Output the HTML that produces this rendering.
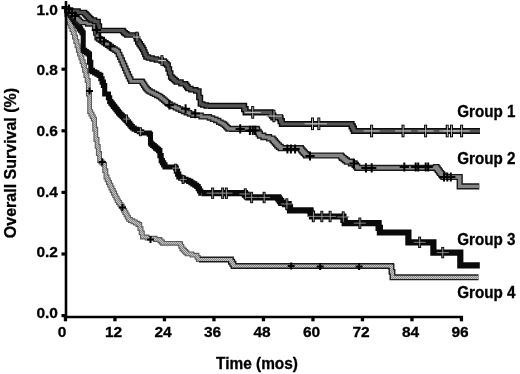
<!DOCTYPE html><html><head><meta charset="utf-8"><title>Overall Survival</title><style>html,body{margin:0;padding:0;background:#fff}svg{display:block}</style></head><body><svg width="520" height="374" viewBox="0 0 520 374">
<defs><pattern id="dots" width="2" height="2" patternUnits="userSpaceOnUse"><rect width="2" height="2" fill="#c4c4c4"/><rect width="1" height="1" fill="#8a8a8a"/><rect x="1" y="1" width="1" height="1" fill="#8a8a8a"/></pattern></defs>
<rect width="520" height="374" fill="#fff"/>
<g fill="none" stroke-linejoin="miter" stroke-linecap="butt">
<path d="M66.0 9.0 L66.7 9.0 L66.7 14.6 L68.1 14.6 L68.1 20.1 L68.8 20.1 L69.4 20.1 L69.4 23.2 L70.7 23.2 L70.7 26.4 L71.9 26.4 L71.9 29.6 L73.2 29.6 L73.2 32.7 L73.8 32.7 L74.4 32.7 L74.4 37.1 L75.7 37.1 L75.7 41.5 L77.0 41.5 L77.0 45.9 L78.3 45.9 L78.3 50.3 L78.9 50.3 L79.5 50.3 L79.5 54.1 L80.8 54.1 L80.8 57.9 L82.0 57.9 L82.0 61.6 L83.3 61.6 L83.3 65.4 L83.9 65.4 L84.5 65.4 L84.5 70.4 L85.8 70.4 L85.8 75.5 L87.1 75.5 L87.1 80.5 L87.7 80.5 L88.3 80.5 L88.3 94.0 L88.9 94.0 L89.6 94.0 L89.6 111.6 L90.2 111.6 L90.8 111.6 L90.8 114.1 L92.1 114.1 L92.1 116.6 L93.3 116.6 L93.3 119.1 L93.9 119.1 L94.6 119.1 L94.6 129.2 L95.8 129.2 L95.8 139.3 L96.5 139.3 L97.1 139.3 L97.1 146.4 L98.3 146.4 L98.3 153.5 L99.6 153.5 L99.6 160.6 L100.2 160.6 L100.8 160.6 L100.8 161.9 L102.1 161.9 L102.1 163.1 L103.4 163.1 L103.4 164.4 L104.0 164.4 L104.6 164.4 L104.6 170.7 L105.9 170.7 L105.9 177.0 L106.5 177.0 L107.1 177.0 L107.1 179.8 L108.4 179.8 L108.4 182.5 L109.6 182.5 L109.6 185.2 L110.9 185.2 L110.9 188.0 L111.5 188.0 L112.1 188.0 L112.1 190.5 L113.4 190.5 L113.4 193.0 L114.7 193.0 L114.7 195.6 L115.9 195.6 L115.9 198.1 L117.2 198.1 L117.2 200.6 L117.8 200.6 L118.4 200.6 L118.4 202.5 L119.7 202.5 L119.7 204.3 L121.0 204.3 L121.0 206.2 L122.3 206.2 L122.3 208.1 L122.9 208.1 L123.5 208.1 L123.5 210.4 L124.8 210.4 L124.8 212.6 L126.0 212.6 L126.0 214.9 L127.2 214.9 L127.2 217.1 L128.5 217.1 L128.5 219.4 L129.1 219.4 L130.4 219.4 L130.4 220.7 L132.9 220.7 L132.9 221.9 L135.4 221.9 L135.4 223.2 L137.9 223.2 L137.9 224.5 L139.2 224.5 L139.8 224.5 L139.8 228.7 L141.1 228.7 L141.1 232.8 L142.4 232.8 L142.4 237.0 L143.0 237.0 L147.1 237.0 L147.1 238.2 L155.2 238.2 L155.2 239.5 L159.3 239.5 L159.9 239.5 L159.9 240.8 L161.2 240.8 L161.2 242.0 L162.5 242.0 L162.5 243.3 L163.1 243.3 L180.0 243.3 L180.0 243.9 L180.7 243.9 L180.7 246.4 L181.9 246.4 L181.9 248.9 L182.6 248.9 L183.2 248.9 L183.2 250.2 L184.5 250.2 L184.5 251.4 L185.7 251.4 L185.7 252.7 L187.0 252.7 L187.0 253.9 L187.6 253.9 L192.0 253.9 L192.0 255.2 L196.4 255.2 L197.0 255.2 L197.0 257.4 L198.3 257.4 L198.3 259.5 L198.9 259.5" stroke="#5c5c5c" stroke-width="4.8"/>
<path d="M198.9 259.5 L230.3 259.5 L230.3 259.5 L230.9 259.5 L230.9 261.7 L232.2 261.7 L232.2 263.8 L233.5 263.8 L233.5 266.0 L234.1 266.0 L391.0 266.0 L391.0 266.5 L391.5 266.5 L391.5 271.9 L392.5 271.9 L392.5 277.3 L393.0 277.3 L478.5 277.3 L478.5 277.3" stroke="#1c1c1c" stroke-width="5.9"/>
<path d="M66.0 9.0 L66.7 9.0 L66.7 14.6 L68.1 14.6 L68.1 20.1 L68.8 20.1 L69.4 20.1 L69.4 23.2 L70.7 23.2 L70.7 26.4 L71.9 26.4 L71.9 29.6 L73.2 29.6 L73.2 32.7 L73.8 32.7 L74.4 32.7 L74.4 37.1 L75.7 37.1 L75.7 41.5 L77.0 41.5 L77.0 45.9 L78.3 45.9 L78.3 50.3 L78.9 50.3 L79.5 50.3 L79.5 54.1 L80.8 54.1 L80.8 57.9 L82.0 57.9 L82.0 61.6 L83.3 61.6 L83.3 65.4 L83.9 65.4 L84.5 65.4 L84.5 70.4 L85.8 70.4 L85.8 75.5 L87.1 75.5 L87.1 80.5 L87.7 80.5 L88.3 80.5 L88.3 94.0 L88.9 94.0 L89.6 94.0 L89.6 111.6 L90.2 111.6 L90.8 111.6 L90.8 114.1 L92.1 114.1 L92.1 116.6 L93.3 116.6 L93.3 119.1 L93.9 119.1 L94.6 119.1 L94.6 129.2 L95.8 129.2 L95.8 139.3 L96.5 139.3 L97.1 139.3 L97.1 146.4 L98.3 146.4 L98.3 153.5 L99.6 153.5 L99.6 160.6 L100.2 160.6 L100.8 160.6 L100.8 161.9 L102.1 161.9 L102.1 163.1 L103.4 163.1 L103.4 164.4 L104.0 164.4 L104.6 164.4 L104.6 170.7 L105.9 170.7 L105.9 177.0 L106.5 177.0 L107.1 177.0 L107.1 179.8 L108.4 179.8 L108.4 182.5 L109.6 182.5 L109.6 185.2 L110.9 185.2 L110.9 188.0 L111.5 188.0 L112.1 188.0 L112.1 190.5 L113.4 190.5 L113.4 193.0 L114.7 193.0 L114.7 195.6 L115.9 195.6 L115.9 198.1 L117.2 198.1 L117.2 200.6 L117.8 200.6 L118.4 200.6 L118.4 202.5 L119.7 202.5 L119.7 204.3 L121.0 204.3 L121.0 206.2 L122.3 206.2 L122.3 208.1 L122.9 208.1 L123.5 208.1 L123.5 210.4 L124.8 210.4 L124.8 212.6 L126.0 212.6 L126.0 214.9 L127.2 214.9 L127.2 217.1 L128.5 217.1 L128.5 219.4 L129.1 219.4 L130.4 219.4 L130.4 220.7 L132.9 220.7 L132.9 221.9 L135.4 221.9 L135.4 223.2 L137.9 223.2 L137.9 224.5 L139.2 224.5 L139.8 224.5 L139.8 228.7 L141.1 228.7 L141.1 232.8 L142.4 232.8 L142.4 237.0 L143.0 237.0 L147.1 237.0 L147.1 238.2 L155.2 238.2 L155.2 239.5 L159.3 239.5 L159.9 239.5 L159.9 240.8 L161.2 240.8 L161.2 242.0 L162.5 242.0 L162.5 243.3 L163.1 243.3 L180.0 243.3 L180.0 243.9 L180.7 243.9 L180.7 246.4 L181.9 246.4 L181.9 248.9 L182.6 248.9 L183.2 248.9 L183.2 250.2 L184.5 250.2 L184.5 251.4 L185.7 251.4 L185.7 252.7 L187.0 252.7 L187.0 253.9 L187.6 253.9 L192.0 253.9 L192.0 255.2 L196.4 255.2 L197.0 255.2 L197.0 257.4 L198.3 257.4 L198.3 259.5 L198.9 259.5" stroke="url(#dots)" stroke-width="2.6"/>
<path d="M198.9 259.5 L230.3 259.5 L230.3 259.5 L230.9 259.5 L230.9 261.7 L232.2 261.7 L232.2 263.8 L233.5 263.8 L233.5 266.0 L234.1 266.0 L391.0 266.0 L391.0 266.5 L391.5 266.5 L391.5 271.9 L392.5 271.9 L392.5 277.3 L393.0 277.3 L478.5 277.3 L478.5 277.3" stroke="url(#dots)" stroke-width="3.2"/>
<path d="M66.0 9.0 L66.7 9.0 L66.7 10.7 L68.0 10.7 L68.0 12.3 L69.3 12.3 L69.3 14.0 L70.0 14.0 L70.6 14.0 L70.6 15.8 L71.9 15.8 L71.9 17.7 L73.2 17.7 L73.2 19.6 L74.4 19.6 L74.4 21.4 L75.7 21.4 L75.7 23.2 L77.0 23.2 L77.0 25.1 L77.6 25.1 L78.2 25.1 L78.2 27.0 L79.5 27.0 L79.5 28.9 L80.7 28.9 L80.7 30.8 L82.0 30.8 L82.0 32.7 L82.6 32.7 L83.2 32.7 L83.2 50.3 L83.9 50.3 L84.7 50.3 L84.7 51.5 L86.4 51.5 L86.4 52.8 L88.1 52.8 L88.1 54.0 L88.9 54.0 L89.5 54.0 L89.5 62.2 L90.8 62.2 L90.8 70.4 L91.4 70.4 L92.5 70.4 L92.5 71.7 L94.7 71.7 L94.7 72.9 L96.9 72.9 L96.9 74.2 L99.1 74.2 L99.1 75.4 L100.2 75.4 L100.8 75.4 L100.8 78.8 L102.1 78.8 L102.1 82.1 L103.4 82.1 L103.4 85.5 L104.0 85.5 L104.7 85.5 L104.7 94.0 L105.3 94.0 L107.8 94.0 L107.8 94.0 L108.4 94.0 L108.4 97.8 L109.7 97.8 L109.7 101.5 L110.3 101.5 L110.9 101.5 L110.9 103.1 L112.2 103.1 L112.2 104.8 L113.4 104.8 L113.4 106.4 L114.7 106.4 L114.7 108.0 L116.0 108.0 L116.0 109.6 L117.2 109.6 L117.2 111.3 L118.5 111.3 L118.5 112.9 L119.1 112.9 L119.7 112.9 L119.7 114.2 L121.0 114.2 L121.0 115.4 L122.2 115.4 L122.2 116.7 L123.5 116.7 L123.5 117.9 L124.7 117.9 L124.7 119.2 L126.0 119.2 L126.0 120.4 L126.6 120.4 L127.2 120.4 L127.2 121.9 L128.5 121.9 L128.5 123.4 L129.8 123.4 L129.8 125.0 L131.0 125.0 L131.0 126.5 L132.3 126.5 L132.3 128.0 L132.9 128.0 L134.2 128.0 L134.2 129.2 L136.7 129.2 L136.7 130.5 L139.2 130.5 L139.2 131.8 L141.7 131.8 L141.7 133.0 L143.0 133.0 L149.3 133.0 L149.3 134.2 L150.5 134.2 L150.5 143.0 L151.2 143.0 L151.2 144.3 L152.7 144.3 L152.7 145.5 L154.2 145.5 L154.2 146.8 L155.6 146.8 L155.6 148.1 L157.1 148.1 L157.1 149.3 L158.6 149.3 L158.6 150.6 L159.3 150.6 L159.9 150.6 L159.9 155.6 L161.2 155.6 L161.2 160.6 L161.8 160.6 L162.4 160.6 L162.4 162.7 L163.7 162.7 L163.7 164.9 L165.0 164.9 L165.0 167.0 L165.6 167.0 L175.7 167.0 L175.7 168.2 L176.3 168.2 L176.3 171.1 L177.6 171.1 L177.6 174.1 L178.8 174.1 L178.8 177.0 L179.4 177.0 L180.7 177.0 L180.7 178.1 L183.4 178.1 L183.4 179.2 L186.0 179.2 L186.0 180.3 L188.7 180.3 L188.7 181.4 L190.0 181.4 L190.9 181.4 L190.9 182.7 L192.8 182.7 L192.8 183.9 L194.8 183.9 L194.8 185.2 L196.7 185.2 L196.7 186.5 L197.6 186.5 L198.2 186.5 L198.2 188.7 L199.5 188.7 L199.5 191.0 L200.8 191.0 L200.8 193.2 L201.4 193.2" stroke="#0a0a0a" stroke-width="5.1"/>
<path d="M201.4 193.2 L244.1 193.2 L244.1 193.2 L244.9 193.2 L244.9 194.6 L246.6 194.6 L246.6 195.9 L248.3 195.9 L248.3 197.3 L249.1 197.3 L278.1 197.3 L278.1 197.8 L278.7 197.8 L278.7 199.5 L280.0 199.5 L280.0 201.1 L281.2 201.1 L281.2 202.8 L281.8 202.8 L285.0 202.8 L285.0 204.1 L288.1 204.1 L288.7 204.1 L288.7 207.2 L290.0 207.2 L290.0 210.3 L290.6 210.3 L310.0 210.3 L310.0 210.6 L310.6 210.6 L310.6 213.6 L312.0 213.6 L312.0 216.5 L312.6 216.5 L342.8 216.5 L342.8 216.5 L343.4 216.5 L343.4 219.8 L344.7 219.8 L344.7 223.2 L345.3 223.2 L378.0 223.2 L378.0 223.2 L378.6 223.2 L378.6 227.8 L379.9 227.8 L379.9 232.5 L380.5 232.5 L407.7 232.5 L407.7 232.5 L408.4 232.5 L408.4 242.3 L409.2 242.3 L432.7 242.3 L432.7 242.3 L433.4 242.3 L433.4 252.6 L434.2 252.6 L459.2 252.6 L459.2 252.6 L460.3 252.6 L460.3 265.3 L479.8 265.3 L479.8 265.3" stroke="#0a0a0a" stroke-width="6.2"/>
<path d="M66.0 9.0 L66.7 9.0 L66.7 10.2 L68.1 10.2 L68.1 11.5 L69.5 11.5 L69.5 12.7 L70.9 12.7 L70.9 13.9 L72.3 13.9 L72.3 15.2 L73.7 15.2 L73.7 16.4 L75.1 16.4 L75.1 17.7 L76.5 17.7 L76.5 18.9 L77.9 18.9 L77.9 20.1 L79.3 20.1 L79.3 21.4 L80.7 21.4 L80.7 22.6 L81.4 22.6 L87.7 22.6 L87.7 23.9 L94.0 23.9 L94.6 23.9 L94.6 28.5 L95.8 28.5 L95.8 33.1 L97.1 33.1 L97.1 37.7 L97.7 37.7 L98.6 37.7 L98.6 39.0 L100.4 39.0 L100.4 40.2 L102.2 40.2 L102.2 41.5 L104.0 41.5 L104.0 42.7 L105.8 42.7 L105.8 44.0 L107.6 44.0 L107.6 45.2 L109.4 45.2 L109.4 46.5 L110.3 46.5 L111.2 46.5 L111.2 47.8 L113.1 47.8 L113.1 49.0 L115.0 49.0 L115.0 50.2 L116.9 50.2 L116.9 51.5 L117.8 51.5 L118.4 51.5 L118.4 54.4 L119.7 54.4 L119.7 57.2 L121.0 57.2 L121.0 60.0 L122.3 60.0 L122.3 62.9 L122.9 62.9 L123.5 62.9 L123.5 65.6 L124.7 65.6 L124.7 68.3 L125.9 68.3 L125.9 71.1 L127.1 71.1 L127.1 73.8 L128.3 73.8 L128.3 76.5 L128.9 76.5 L129.6 76.5 L129.6 78.9 L130.8 78.9 L130.8 81.3 L131.5 81.3 L142.0 81.3 L142.0 82.0 L142.6 82.0 L142.6 83.6 L143.7 83.6 L143.7 85.2 L144.8 85.2 L144.8 86.9 L145.9 86.9 L145.9 88.5 L146.5 88.5 L147.1 88.5 L147.1 89.8 L148.4 89.8 L148.4 91.0 L149.0 91.0 L150.1 91.0 L150.1 92.1 L152.3 92.1 L152.3 93.2 L154.5 93.2 L154.5 94.3 L156.7 94.3 L156.7 95.4 L158.9 95.4 L158.9 96.5 L160.0 96.5 L160.7 96.5 L160.7 97.8 L162.2 97.8 L162.2 99.0 L163.7 99.0 L163.7 100.2 L165.1 100.2 L165.1 101.5 L166.6 101.5 L166.6 102.8 L168.1 102.8 L168.1 104.0 L168.8 104.0 L170.1 104.0 L170.1 105.2 L172.8 105.2 L172.8 106.5 L175.4 106.5 L175.4 107.8 L178.1 107.8 L178.1 109.0 L180.7 109.0 L180.7 110.2 L183.4 110.2 L183.4 111.5 L184.7 111.5 L186.3 111.5 L186.3 112.7 L189.5 112.7 L189.5 114.0 L192.7 114.0 L192.7 115.2 L194.3 115.2 L201.1 115.2 L201.1 116.8 L207.8 116.8 L209.4 116.8 L209.4 118.0 L212.6 118.0 L212.6 119.3 L215.8 119.3 L215.8 120.5 L217.4 120.5 L218.7 120.5 L218.7 122.2 L220.0 122.2 L221.0 122.2 L221.0 123.2 L222.9 123.2 L222.9 124.1 L223.9 124.1 L224.5 124.1 L224.5 125.3 L225.7 125.3 L225.7 126.5 L226.9 126.5 L226.9 127.7 L228.1 127.7 L228.1 128.9 L228.7 128.9" stroke="#1a1a1a" stroke-width="5.5"/>
<path d="M228.7 128.9 L256.6 128.9 L256.6 129.9 L257.2 129.9 L257.2 131.8 L258.6 131.8 L258.6 133.7 L259.9 133.7 L259.9 135.6 L260.5 135.6 L263.4 135.6 L263.4 137.1 L269.1 137.1 L269.1 138.5 L272.0 138.5 L272.6 138.5 L272.6 139.9 L273.7 139.9 L273.7 141.2 L274.9 141.2 L274.9 142.6 L276.1 142.6 L276.1 143.9 L277.2 143.9 L277.2 145.3 L277.8 145.3 L278.8 145.3 L278.8 146.8 L280.7 146.8 L280.7 148.2 L281.7 148.2 L300.9 148.2 L300.9 149.1 L301.5 149.1 L301.5 150.4 L302.6 150.4 L302.6 151.7 L303.8 151.7 L303.8 152.9 L305.0 152.9 L305.0 154.2 L306.1 154.2 L306.1 155.5 L306.7 155.5 L341.0 155.5 L341.0 156.5 L341.9 156.5 L341.9 157.8 L343.6 157.8 L343.6 159.1 L345.2 159.1 L345.2 160.4 L346.9 160.4 L346.9 161.7 L347.8 161.7 L350.9 161.7 L350.9 163.4 L354.0 163.4 L354.6 163.4 L354.6 164.9 L355.9 164.9 L355.9 166.4 L357.2 166.4 L357.2 167.9 L357.8 167.9 L436.0 167.9 L436.0 167.0 L436.6 167.0 L436.6 168.5 L437.7 168.5 L437.7 170.0 L438.8 170.0 L438.8 171.5 L439.9 171.5 L439.9 173.0 L440.5 173.0 L441.1 173.0 L441.1 174.3 L442.2 174.3 L442.2 175.7 L443.4 175.7 L443.4 177.0 L444.0 177.0 L459.0 177.0 L459.0 177.0 L459.7 177.0 L459.7 186.4 L460.4 186.4 L479.3 186.4 L479.3 186.4" stroke="#1a1a1a" stroke-width="6.2"/>
<path d="M66.0 9.0 L66.7 9.0 L66.7 10.2 L68.1 10.2 L68.1 11.5 L69.5 11.5 L69.5 12.7 L70.9 12.7 L70.9 13.9 L72.3 13.9 L72.3 15.2 L73.7 15.2 L73.7 16.4 L75.1 16.4 L75.1 17.7 L76.5 17.7 L76.5 18.9 L77.9 18.9 L77.9 20.1 L79.3 20.1 L79.3 21.4 L80.7 21.4 L80.7 22.6 L81.4 22.6 L87.7 22.6 L87.7 23.9 L94.0 23.9 L94.6 23.9 L94.6 28.5 L95.8 28.5 L95.8 33.1 L97.1 33.1 L97.1 37.7 L97.7 37.7 L98.6 37.7 L98.6 39.0 L100.4 39.0 L100.4 40.2 L102.2 40.2 L102.2 41.5 L104.0 41.5 L104.0 42.7 L105.8 42.7 L105.8 44.0 L107.6 44.0 L107.6 45.2 L109.4 45.2 L109.4 46.5 L110.3 46.5 L111.2 46.5 L111.2 47.8 L113.1 47.8 L113.1 49.0 L115.0 49.0 L115.0 50.2 L116.9 50.2 L116.9 51.5 L117.8 51.5 L118.4 51.5 L118.4 54.4 L119.7 54.4 L119.7 57.2 L121.0 57.2 L121.0 60.0 L122.3 60.0 L122.3 62.9 L122.9 62.9 L123.5 62.9 L123.5 65.6 L124.7 65.6 L124.7 68.3 L125.9 68.3 L125.9 71.1 L127.1 71.1 L127.1 73.8 L128.3 73.8 L128.3 76.5 L128.9 76.5 L129.6 76.5 L129.6 78.9 L130.8 78.9 L130.8 81.3 L131.5 81.3 L142.0 81.3 L142.0 82.0 L142.6 82.0 L142.6 83.6 L143.7 83.6 L143.7 85.2 L144.8 85.2 L144.8 86.9 L145.9 86.9 L145.9 88.5 L146.5 88.5 L147.1 88.5 L147.1 89.8 L148.4 89.8 L148.4 91.0 L149.0 91.0 L150.1 91.0 L150.1 92.1 L152.3 92.1 L152.3 93.2 L154.5 93.2 L154.5 94.3 L156.7 94.3 L156.7 95.4 L158.9 95.4 L158.9 96.5 L160.0 96.5 L160.7 96.5 L160.7 97.8 L162.2 97.8 L162.2 99.0 L163.7 99.0 L163.7 100.2 L165.1 100.2 L165.1 101.5 L166.6 101.5 L166.6 102.8 L168.1 102.8 L168.1 104.0 L168.8 104.0 L170.1 104.0 L170.1 105.2 L172.8 105.2 L172.8 106.5 L175.4 106.5 L175.4 107.8 L178.1 107.8 L178.1 109.0 L180.7 109.0 L180.7 110.2 L183.4 110.2 L183.4 111.5 L184.7 111.5 L186.3 111.5 L186.3 112.7 L189.5 112.7 L189.5 114.0 L192.7 114.0 L192.7 115.2 L194.3 115.2 L201.1 115.2 L201.1 116.8 L207.8 116.8 L209.4 116.8 L209.4 118.0 L212.6 118.0 L212.6 119.3 L215.8 119.3 L215.8 120.5 L217.4 120.5 L218.7 120.5 L218.7 122.2 L220.0 122.2 L221.0 122.2 L221.0 123.2 L222.9 123.2 L222.9 124.1 L223.9 124.1 L224.5 124.1 L224.5 125.3 L225.7 125.3 L225.7 126.5 L226.9 126.5 L226.9 127.7 L228.1 127.7 L228.1 128.9 L228.7 128.9" stroke="#808080" stroke-width="2.7"/>
<path d="M228.7 128.9 L256.6 128.9 L256.6 129.9 L257.2 129.9 L257.2 131.8 L258.6 131.8 L258.6 133.7 L259.9 133.7 L259.9 135.6 L260.5 135.6 L263.4 135.6 L263.4 137.1 L269.1 137.1 L269.1 138.5 L272.0 138.5 L272.6 138.5 L272.6 139.9 L273.7 139.9 L273.7 141.2 L274.9 141.2 L274.9 142.6 L276.1 142.6 L276.1 143.9 L277.2 143.9 L277.2 145.3 L277.8 145.3 L278.8 145.3 L278.8 146.8 L280.7 146.8 L280.7 148.2 L281.7 148.2 L300.9 148.2 L300.9 149.1 L301.5 149.1 L301.5 150.4 L302.6 150.4 L302.6 151.7 L303.8 151.7 L303.8 152.9 L305.0 152.9 L305.0 154.2 L306.1 154.2 L306.1 155.5 L306.7 155.5 L341.0 155.5 L341.0 156.5 L341.9 156.5 L341.9 157.8 L343.6 157.8 L343.6 159.1 L345.2 159.1 L345.2 160.4 L346.9 160.4 L346.9 161.7 L347.8 161.7 L350.9 161.7 L350.9 163.4 L354.0 163.4 L354.6 163.4 L354.6 164.9 L355.9 164.9 L355.9 166.4 L357.2 166.4 L357.2 167.9 L357.8 167.9 L436.0 167.9 L436.0 167.0 L436.6 167.0 L436.6 168.5 L437.7 168.5 L437.7 170.0 L438.8 170.0 L438.8 171.5 L439.9 171.5 L439.9 173.0 L440.5 173.0 L441.1 173.0 L441.1 174.3 L442.2 174.3 L442.2 175.7 L443.4 175.7 L443.4 177.0 L444.0 177.0 L459.0 177.0 L459.0 177.0 L459.7 177.0 L459.7 186.4 L460.4 186.4 L479.3 186.4 L479.3 186.4" stroke="#858585" stroke-width="3.4"/>
<path d="M66.0 9.0 L67.5 9.0 L67.5 10.0 L70.5 10.0 L70.5 11.0 L72.0 11.0 L78.0 11.0 L78.0 12.5 L84.0 12.5 L84.6 12.5 L84.6 13.8 L85.9 13.8 L85.9 15.0 L87.1 15.0 L87.1 16.2 L88.4 16.2 L88.4 17.5 L89.6 17.5 L89.6 18.8 L90.9 18.8 L90.9 20.0 L91.5 20.0 L94.5 20.0 L94.5 21.5 L97.5 21.5 L98.1 21.5 L98.1 26.0 L99.4 26.0 L99.4 30.5 L100.0 30.5 L123.0 30.5 L123.0 31.5 L123.8 31.5 L123.8 32.7 L125.2 32.7 L125.2 33.8 L126.8 33.8 L126.8 35.0 L127.5 35.0 L135.7 35.0 L135.7 36.0 L136.4 36.0 L136.4 39.0 L137.8 39.0 L137.8 42.0 L138.5 42.0 L139.1 42.0 L139.1 43.9 L140.3 43.9 L140.3 45.8 L141.6 45.8 L141.6 47.6 L142.8 47.6 L142.8 49.5 L143.4 49.5 L143.9 49.5 L143.9 52.0 L144.9 52.0 L144.9 54.5 L146.0 54.5 L146.0 57.0 L146.5 57.0 L148.4 57.0 L148.4 58.0 L152.1 58.0 L152.1 59.0 L154.0 59.0 L156.4 59.0 L156.4 60.0 L161.2 60.0 L161.2 61.0 L163.6 61.0 L164.2 61.0 L164.2 62.3 L165.5 62.3 L165.5 63.7 L166.8 63.7 L166.8 65.0 L167.4 65.0 L168.1 65.0 L168.1 69.0 L169.4 69.0 L169.4 73.0 L170.7 73.0 L170.7 77.0 L171.3 77.0 L172.0 77.0 L172.0 78.2 L173.4 78.2 L173.4 79.5 L174.9 79.5 L174.9 80.8 L176.3 80.8 L176.3 82.0 L177.0 82.0 L181.0 82.0 L181.0 83.8 L185.0 83.8 L185.6 83.8 L185.6 85.4 L186.8 85.4 L186.8 86.9 L187.9 86.9 L187.9 88.5 L188.5 88.5 L190.9 88.5 L190.9 89.8 L195.8 89.8 L195.8 91.0 L198.2 91.0 L198.9 91.0 L198.9 97.5 L200.4 97.5 L200.4 104.0 L201.1 104.0 L202.8 104.0 L202.8 105.0 L206.1 105.0 L206.1 105.9 L207.8 105.9" stroke="#0c0c0c" stroke-width="5.6"/>
<path d="M207.8 105.9 L243.3 105.9 L243.3 105.9 L244.1 105.9 L244.1 109.1 L245.6 109.1 L245.6 112.3 L246.3 112.3 L270.0 112.3 L270.0 112.5 L270.7 112.5 L270.7 114.1 L272.0 114.1 L272.0 115.7 L273.3 115.7 L273.3 117.3 L274.0 117.3 L280.0 117.3 L280.0 118.3 L280.6 118.3 L280.6 121.2 L281.9 121.2 L281.9 124.0 L282.5 124.0 L351.0 124.0 L351.0 124.0 L351.6 124.0 L351.6 126.3 L352.8 126.3 L352.8 128.7 L353.9 128.7 L353.9 131.0 L354.5 131.0 L480.0 131.0 L480.0 131.0" stroke="#0c0c0c" stroke-width="6.2"/>
<path d="M66.0 9.0 L67.5 9.0 L67.5 10.0 L70.5 10.0 L70.5 11.0 L72.0 11.0 L78.0 11.0 L78.0 12.5 L84.0 12.5 L84.6 12.5 L84.6 13.8 L85.9 13.8 L85.9 15.0 L87.1 15.0 L87.1 16.2 L88.4 16.2 L88.4 17.5 L89.6 17.5 L89.6 18.8 L90.9 18.8 L90.9 20.0 L91.5 20.0 L94.5 20.0 L94.5 21.5 L97.5 21.5 L98.1 21.5 L98.1 26.0 L99.4 26.0 L99.4 30.5 L100.0 30.5 L123.0 30.5 L123.0 31.5 L123.8 31.5 L123.8 32.7 L125.2 32.7 L125.2 33.8 L126.8 33.8 L126.8 35.0 L127.5 35.0 L135.7 35.0 L135.7 36.0 L136.4 36.0 L136.4 39.0 L137.8 39.0 L137.8 42.0 L138.5 42.0 L139.1 42.0 L139.1 43.9 L140.3 43.9 L140.3 45.8 L141.6 45.8 L141.6 47.6 L142.8 47.6 L142.8 49.5 L143.4 49.5 L143.9 49.5 L143.9 52.0 L144.9 52.0 L144.9 54.5 L146.0 54.5 L146.0 57.0 L146.5 57.0 L148.4 57.0 L148.4 58.0 L152.1 58.0 L152.1 59.0 L154.0 59.0 L156.4 59.0 L156.4 60.0 L161.2 60.0 L161.2 61.0 L163.6 61.0 L164.2 61.0 L164.2 62.3 L165.5 62.3 L165.5 63.7 L166.8 63.7 L166.8 65.0 L167.4 65.0 L168.1 65.0 L168.1 69.0 L169.4 69.0 L169.4 73.0 L170.7 73.0 L170.7 77.0 L171.3 77.0 L172.0 77.0 L172.0 78.2 L173.4 78.2 L173.4 79.5 L174.9 79.5 L174.9 80.8 L176.3 80.8 L176.3 82.0 L177.0 82.0 L181.0 82.0 L181.0 83.8 L185.0 83.8 L185.6 83.8 L185.6 85.4 L186.8 85.4 L186.8 86.9 L187.9 86.9 L187.9 88.5 L188.5 88.5 L190.9 88.5 L190.9 89.8 L195.8 89.8 L195.8 91.0 L198.2 91.0 L198.9 91.0 L198.9 97.5 L200.4 97.5 L200.4 104.0 L201.1 104.0 L202.8 104.0 L202.8 105.0 L206.1 105.0 L206.1 105.9 L207.8 105.9" stroke="#505050" stroke-width="2.8"/>
<path d="M207.8 105.9 L243.3 105.9 L243.3 105.9 L244.1 105.9 L244.1 109.1 L245.6 109.1 L245.6 112.3 L246.3 112.3 L270.0 112.3 L270.0 112.5 L270.7 112.5 L270.7 114.1 L272.0 114.1 L272.0 115.7 L273.3 115.7 L273.3 117.3 L274.0 117.3 L280.0 117.3 L280.0 118.3 L280.6 118.3 L280.6 121.2 L281.9 121.2 L281.9 124.0 L282.5 124.0 L351.0 124.0 L351.0 124.0 L351.6 124.0 L351.6 126.3 L352.8 126.3 L352.8 128.7 L353.9 128.7 L353.9 131.0 L354.5 131.0 L480.0 131.0 L480.0 131.0" stroke="#555" stroke-width="3.2"/>
</g>
<path d="M91.9 30.0H101.1M96.5 25.4V34.6" stroke="#000" stroke-width="2" fill="none"/>
<path d="M95.6 37.7H104.8M100.2 33.1V42.3" stroke="#000" stroke-width="2" fill="none"/>
<path d="M99.4 41.5H108.6M104.0 36.9V46.1" stroke="#000" stroke-width="2" fill="none"/>
<path d="M105.7 46.5H114.9M110.3 41.9V51.1" stroke="#000" stroke-width="2" fill="none"/>
<path d="M164.7 105.0H173.9M169.3 100.4V109.6" stroke="#000" stroke-width="2" fill="none"/>
<path d="M181.0 108.8H190.2M185.6 104.2V113.4" stroke="#000" stroke-width="2" fill="none"/>
<path d="M190.7 113.6H199.9M195.3 109.0V118.2" stroke="#000" stroke-width="2" fill="none"/>
<path d="M235.6 128.9H244.8M240.2 124.3V133.5" stroke="#000" stroke-width="2" fill="none"/>
<path d="M245.3 130.4H254.5M249.9 125.8V135.0" stroke="#000" stroke-width="2" fill="none"/>
<path d="M248.2 130.4H257.4M252.8 125.8V135.0" stroke="#000" stroke-width="2" fill="none"/>
<path d="M250.7 130.4H259.9M255.3 125.8V135.0" stroke="#000" stroke-width="2" fill="none"/>
<path d="M282.8 149.0H292.0M287.4 144.4V153.6" stroke="#000" stroke-width="2" fill="none"/>
<path d="M286.3 149.0H295.5M290.9 144.4V153.6" stroke="#000" stroke-width="2" fill="none"/>
<path d="M290.5 149.0H299.7M295.1 144.4V153.6" stroke="#000" stroke-width="2" fill="none"/>
<path d="M305.4 156.0H314.6M310.0 151.4V160.6" stroke="#000" stroke-width="2" fill="none"/>
<path d="M349.4 163.4H358.6M354.0 158.8V168.0" stroke="#000" stroke-width="2" fill="none"/>
<path d="M361.3 167.9H370.5M365.9 163.3V172.5" stroke="#000" stroke-width="2" fill="none"/>
<path d="M367.1 167.9H376.3M371.7 163.3V172.5" stroke="#000" stroke-width="2" fill="none"/>
<path d="M399.7 167.0H408.9M404.3 162.4V171.6" stroke="#000" stroke-width="2" fill="none"/>
<path d="M411.1 167.0H420.3M415.7 162.4V171.6" stroke="#000" stroke-width="2" fill="none"/>
<path d="M413.6 167.0H422.8M418.2 162.4V171.6" stroke="#000" stroke-width="2" fill="none"/>
<path d="M421.1 167.0H430.3M425.7 162.4V171.6" stroke="#000" stroke-width="2" fill="none"/>
<path d="M423.6 167.0H432.8M428.2 162.4V171.6" stroke="#000" stroke-width="2" fill="none"/>
<path d="M439.4 177.0H448.6M444.0 172.4V181.6" stroke="#000" stroke-width="2" fill="none"/>
<path d="M442.7 177.0H451.9M447.3 172.4V181.6" stroke="#000" stroke-width="2" fill="none"/>
<path d="M446.2 177.0H455.4M450.8 172.4V181.6" stroke="#000" stroke-width="2" fill="none"/>
<path d="M64.4 9.0H73.6M69.0 4.4V13.6" stroke="#000" stroke-width="2" fill="none"/>
<path d="M67.4 13.0H76.6M72.0 8.4V17.6" stroke="#000" stroke-width="2" fill="none"/>
<path d="M70.4 16.0H79.6M75.0 11.4V20.6" stroke="#000" stroke-width="2" fill="none"/>
<path d="M86.0 91.0H93.0M89.5 87.5V94.5" stroke="#000" stroke-width="2" fill="none"/>
<path d="M98.7 161.9H105.7M102.2 158.4V165.4" stroke="#000" stroke-width="2" fill="none"/>
<path d="M118.9 207.6H125.9M122.4 204.1V211.1" stroke="#000" stroke-width="2" fill="none"/>
<path d="M147.0 239.5H154.0M150.5 236.0V243.0" stroke="#000" stroke-width="2" fill="none"/>
<path d="M287.7 266.0H294.7M291.2 262.5V269.5" stroke="#000" stroke-width="2" fill="none"/>
<path d="M316.7 266.5H323.7M320.2 263.0V270.0" stroke="#000" stroke-width="2" fill="none"/>
<path d="M355.6 266.5H362.6M359.1 263.0V270.0" stroke="#000" stroke-width="2" fill="none"/>
<rect x="125.0" y="114.5" width="3.0" height="9.0" fill="#111"/><rect x="123.1" y="118.5" width="7.0" height="1.1" fill="#777"/><rect x="126.20" y="115.4" width="0.8" height="7.2" fill="#aaa"/>
<rect x="138.9" y="127.2" width="3.0" height="9.0" fill="#111"/><rect x="137.0" y="131.1" width="7.0" height="1.1" fill="#777"/><rect x="140.10" y="128.1" width="0.8" height="7.2" fill="#aaa"/>
<rect x="174.1" y="163.7" width="3.0" height="9.0" fill="#111"/><rect x="172.2" y="167.6" width="7.0" height="1.1" fill="#777"/><rect x="175.30" y="164.6" width="0.8" height="7.2" fill="#aaa"/>
<rect x="181.6" y="175.0" width="3.0" height="9.0" fill="#111"/><rect x="179.7" y="178.9" width="7.0" height="1.1" fill="#777"/><rect x="182.80" y="175.9" width="0.8" height="7.2" fill="#aaa"/>
<rect x="211.1" y="187.5" width="3.0" height="11.4" fill="#111"/><rect x="206.7" y="192.6" width="12.0" height="1.1" fill="#777"/><rect x="212.30" y="188.4" width="0.8" height="9.6" fill="#aaa"/>
<rect x="221.1" y="187.5" width="3.0" height="11.4" fill="#111"/><rect x="216.7" y="192.6" width="12.0" height="1.1" fill="#777"/><rect x="222.30" y="188.4" width="0.8" height="9.6" fill="#aaa"/>
<rect x="224.9" y="187.5" width="3.0" height="11.4" fill="#111"/><rect x="220.5" y="192.6" width="12.0" height="1.1" fill="#777"/><rect x="226.10" y="188.4" width="0.8" height="9.6" fill="#aaa"/>
<rect x="243.8" y="188.3" width="3.0" height="11.4" fill="#111"/><rect x="239.4" y="193.4" width="12.0" height="1.1" fill="#777"/><rect x="245.00" y="189.2" width="0.8" height="9.6" fill="#aaa"/>
<rect x="250.1" y="191.8" width="3.0" height="11.4" fill="#111"/><rect x="245.7" y="196.9" width="12.0" height="1.1" fill="#777"/><rect x="251.30" y="192.7" width="0.8" height="9.6" fill="#aaa"/>
<rect x="262.6" y="191.8" width="3.0" height="11.4" fill="#111"/><rect x="258.2" y="196.9" width="12.0" height="1.1" fill="#777"/><rect x="263.80" y="192.7" width="0.8" height="9.6" fill="#aaa"/>
<rect x="285.3" y="198.3" width="3.0" height="11.4" fill="#111"/><rect x="280.9" y="203.4" width="12.0" height="1.1" fill="#777"/><rect x="286.50" y="199.2" width="0.8" height="9.6" fill="#aaa"/>
<rect x="311.8" y="210.8" width="3.0" height="11.4" fill="#111"/><rect x="307.4" y="215.9" width="12.0" height="1.1" fill="#777"/><rect x="313.00" y="211.7" width="0.8" height="9.6" fill="#aaa"/>
<rect x="320.3" y="210.8" width="3.0" height="11.4" fill="#111"/><rect x="315.9" y="215.9" width="12.0" height="1.1" fill="#777"/><rect x="321.50" y="211.7" width="0.8" height="9.6" fill="#aaa"/>
<rect x="328.6" y="210.8" width="3.0" height="11.4" fill="#111"/><rect x="324.2" y="215.9" width="12.0" height="1.1" fill="#777"/><rect x="329.80" y="211.7" width="0.8" height="9.6" fill="#aaa"/>
<rect x="341.7" y="211.3" width="3.0" height="11.4" fill="#111"/><rect x="337.3" y="216.4" width="12.0" height="1.1" fill="#777"/><rect x="342.90" y="212.2" width="0.8" height="9.6" fill="#aaa"/>
<rect x="358.3" y="217.5" width="3.0" height="11.4" fill="#111"/><rect x="353.9" y="222.6" width="12.0" height="1.1" fill="#777"/><rect x="359.50" y="218.4" width="0.8" height="9.6" fill="#aaa"/>
<rect x="418.1" y="236.6" width="3.0" height="11.4" fill="#111"/><rect x="413.7" y="241.8" width="12.0" height="1.1" fill="#777"/><rect x="419.30" y="237.5" width="0.8" height="9.6" fill="#aaa"/>
<rect x="441.2" y="246.9" width="3.0" height="11.4" fill="#111"/><rect x="436.8" y="252.0" width="12.0" height="1.1" fill="#777"/><rect x="442.40" y="247.8" width="0.8" height="9.6" fill="#aaa"/>
<rect x="135.4" y="31.7" width="3.0" height="10.6" fill="#000"/><rect x="133.0" y="36.5" width="8.0" height="1.1" fill="#bbb"/><rect x="136.55" y="32.6" width="0.9" height="8.8" fill="#d8d8d8"/>
<rect x="160.4" y="55.2" width="3.0" height="10.6" fill="#000"/><rect x="158.0" y="60.0" width="8.0" height="1.1" fill="#bbb"/><rect x="161.55" y="56.1" width="0.9" height="8.8" fill="#d8d8d8"/>
<rect x="251.2" y="106.1" width="3.0" height="12.6" fill="#000"/><rect x="244.8" y="111.9" width="16.0" height="1.1" fill="#bbb"/><rect x="252.35" y="107.0" width="0.9" height="10.8" fill="#d8d8d8"/>
<rect x="272.4" y="109.7" width="3.0" height="12.6" fill="#000"/><rect x="266.0" y="115.5" width="16.0" height="1.1" fill="#bbb"/><rect x="273.55" y="110.6" width="0.9" height="10.8" fill="#d8d8d8"/>
<rect x="311.0" y="117.5" width="3.0" height="12.6" fill="#000"/><rect x="304.6" y="123.2" width="16.0" height="1.1" fill="#bbb"/><rect x="312.15" y="118.4" width="0.9" height="10.8" fill="#d8d8d8"/>
<rect x="317.3" y="117.5" width="3.0" height="12.6" fill="#000"/><rect x="310.9" y="123.2" width="16.0" height="1.1" fill="#bbb"/><rect x="318.45" y="118.4" width="0.9" height="10.8" fill="#d8d8d8"/>
<rect x="370.1" y="124.7" width="3.0" height="12.6" fill="#000"/><rect x="363.7" y="130.4" width="16.0" height="1.1" fill="#bbb"/><rect x="371.25" y="125.6" width="0.9" height="10.8" fill="#d8d8d8"/>
<rect x="401.5" y="124.7" width="3.0" height="12.6" fill="#000"/><rect x="395.1" y="130.4" width="16.0" height="1.1" fill="#bbb"/><rect x="402.65" y="125.6" width="0.9" height="10.8" fill="#d8d8d8"/>
<rect x="424.1" y="124.7" width="3.0" height="12.6" fill="#000"/><rect x="417.7" y="130.4" width="16.0" height="1.1" fill="#bbb"/><rect x="425.25" y="125.6" width="0.9" height="10.8" fill="#d8d8d8"/>
<rect x="445.7" y="124.7" width="3.0" height="12.6" fill="#000"/><rect x="439.3" y="130.4" width="16.0" height="1.1" fill="#bbb"/><rect x="446.85" y="125.6" width="0.9" height="10.8" fill="#d8d8d8"/>
<rect x="450.0" y="124.7" width="3.0" height="12.6" fill="#000"/><rect x="443.6" y="130.4" width="16.0" height="1.1" fill="#bbb"/><rect x="451.15" y="125.6" width="0.9" height="10.8" fill="#d8d8d8"/>
<rect x="460.1" y="124.7" width="3.0" height="12.6" fill="#000"/><rect x="453.7" y="130.4" width="16.0" height="1.1" fill="#bbb"/><rect x="461.25" y="125.6" width="0.9" height="10.8" fill="#d8d8d8"/>
<path d="M66 1V317.5" stroke="#000" stroke-width="2.6" fill="none"/>
<path d="M64.7 317H463" stroke="#000" stroke-width="2.6" fill="none"/>
<rect x="63.8" y="316.5" width="3.3" height="4.8" fill="#000"/>
<rect x="113.3" y="316.5" width="3.3" height="4.8" fill="#000"/>
<rect x="162.8" y="316.5" width="3.3" height="4.8" fill="#000"/>
<rect x="212.3" y="316.5" width="3.3" height="4.8" fill="#000"/>
<rect x="261.8" y="316.5" width="3.3" height="4.8" fill="#000"/>
<rect x="311.3" y="316.5" width="3.3" height="4.8" fill="#000"/>
<rect x="360.8" y="316.5" width="3.3" height="4.8" fill="#000"/>
<rect x="410.3" y="316.5" width="3.3" height="4.8" fill="#000"/>
<rect x="459.8" y="316.5" width="3.3" height="4.8" fill="#000"/>
<rect x="61.5" y="6.0" width="4.5" height="3.2" fill="#000"/>
<rect x="61.5" y="67.6" width="4.5" height="3.2" fill="#000"/>
<rect x="61.5" y="129.2" width="4.5" height="3.2" fill="#000"/>
<rect x="61.5" y="190.8" width="4.5" height="3.2" fill="#000"/>
<rect x="61.5" y="252.4" width="4.5" height="3.2" fill="#000"/>
<rect x="61.5" y="314.0" width="4.5" height="3.2" fill="#000"/>
<g font-family="'Liberation Sans',Arial,Helvetica,sans-serif" font-weight="bold" fill="#000" stroke="#000" stroke-width="0.3">
<text transform="translate(62.0 336.5) scale(1 1)" font-size="15.5" text-anchor="middle">0</text>
<text transform="translate(113.5 336.5) scale(1 1)" font-size="15.5" text-anchor="middle">12</text>
<text transform="translate(163.0 336.5) scale(1 1)" font-size="15.5" text-anchor="middle">24</text>
<text transform="translate(212.5 336.5) scale(1 1)" font-size="15.5" text-anchor="middle">36</text>
<text transform="translate(262.0 336.5) scale(1 1)" font-size="15.5" text-anchor="middle">48</text>
<text transform="translate(311.5 336.5) scale(1 1)" font-size="15.5" text-anchor="middle">60</text>
<text transform="translate(361.0 336.5) scale(1 1)" font-size="15.5" text-anchor="middle">72</text>
<text transform="translate(410.5 336.5) scale(1 1)" font-size="15.5" text-anchor="middle">84</text>
<text transform="translate(460.0 336.5) scale(1 1)" font-size="15.5" text-anchor="middle">96</text>
<text transform="translate(58 14.8) scale(1 1)" font-size="15.5" text-anchor="end">1.0</text>
<text transform="translate(58 75.4) scale(1 1)" font-size="15.5" text-anchor="end">0.8</text>
<text transform="translate(58 136) scale(1 1)" font-size="15.5" text-anchor="end">0.6</text>
<text transform="translate(58 196.6) scale(1 1)" font-size="15.5" text-anchor="end">0.4</text>
<text transform="translate(58 257.2) scale(1 1)" font-size="15.5" text-anchor="end">0.2</text>
<text transform="translate(58 317.7) scale(1 1)" font-size="15.5" text-anchor="end">0.0</text>
<text transform="translate(257 368.9) scale(1 1.04)" font-size="15.4" text-anchor="middle">Time (mos)</text>
<text transform="translate(15.5 163) rotate(-90)" font-size="16" text-anchor="middle">Overall Survival (%)</text>
<text transform="translate(457.3 116.6) scale(1 1.05)" font-size="15.2">Group 1</text>
<text transform="translate(457.3 163.79999999999998) scale(1 1.05)" font-size="15.2">Group 2</text>
<text transform="translate(457.3 245.1) scale(1 1.05)" font-size="15.2">Group 3</text>
<text transform="translate(457.3 298.0) scale(1 1.05)" font-size="15.2">Group 4</text>
</g></svg></body></html>
